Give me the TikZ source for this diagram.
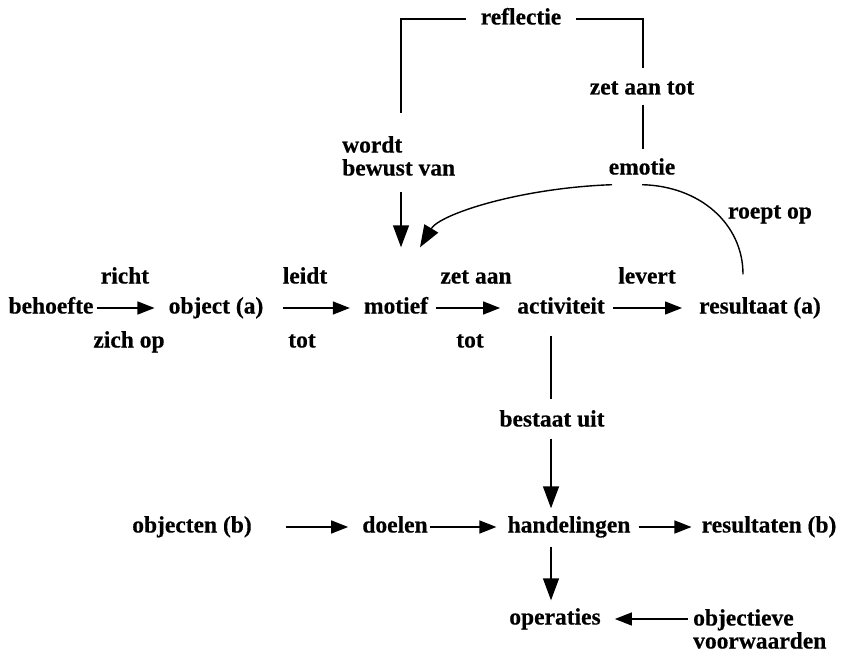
\documentclass[tikz,border=0pt]{standalone}
\usepackage{fontspec}
\setmainfont{Liberation Serif}[BoldFeatures={FakeBold=0.4}]
\usetikzlibrary{arrows.meta}
\begin{document}
\begin{tikzpicture}[x=1pt,y=-1pt,
  lbl/.style={font=\fontsize{23.5}{23}\selectfont\bfseries, inner sep=0pt,
              text height=11pt, text depth=0pt},
  multi/.style={font=\fontsize{23.5}{23}\selectfont\bfseries, inner sep=0pt,
              align=left, anchor=north west},
  conn/.style={line width=1.4pt},
  arr/.style={conn, -{Triangle[length=17pt,width=13pt]}},
  varr/.style={conn, -{Triangle[length=22pt,width=16pt]}},
]
\useasboundingbox (0,0) rectangle (843,658);

% columns used by the vertical connectors
\coordinate (colL) at (401,0);
\coordinate (colR) at (643,0);
\coordinate (spine) at (551,0);

% reflection loop
\node[lbl] (reflectie) at (521,19) {reflectie};
\node[lbl] (zetaantot) at (642,89) {zet aan tot};
\node[multi] (bewust) at (342,136) {wordt\\bewust van};
\node[lbl] (emotie) at (642,169) {emotie};
\node[lbl] (roeptop) at (770,213) {roept op};

% main chain
\node[lbl] (behoefte)   at (51,308)  {behoefte};
\node[lbl] (object)     at (216,308) {object (a)};
\node[lbl] (motief)     at (396,308) {motief};
\node[lbl] (activiteit) at (561,308) {activiteit};
\node[lbl] (resultaat)  at (760,308) {resultaat (a)};

\node[lbl] (richt)  at (125,278) {richt};
\node[lbl] (leidt)  at (305,278) {leidt};
\node[lbl] (zetaan) at (476,278) {zet aan};
\node[lbl] (levert) at (647,278) {levert};
\node[lbl] (zichop) at (129,342) {zich op};
\node[lbl] (totA)   at (302,342) {tot};
\node[lbl] (totB)   at (470,342) {tot};

\node[lbl] (bestaat) at (552,421) {bestaat uit};

% lower chain
\node[lbl] (objecten)    at (192,527) {objecten (b)};
\node[lbl] (doelen)      at (395,527) {doelen};
\node[lbl] (handelingen) at (569,527) {handelingen};
\node[lbl] (resultaten)  at (769,527) {resultaten (b)};

\node[lbl] (operaties) at (555,619) {operaties};
\node[multi] (objectieve) at (693,609) {objectieve\\voorwaarden};

% reflection loop lines
\draw[conn] ([xshift=-15pt]reflectie.west) -| ([yshift=23pt]bewust.north -| colL);
\draw[conn] ([xshift=15pt]reflectie.east) -| ([yshift=15pt]zetaantot.north -| colR);
\draw[conn] ([yshift=-10pt]zetaantot.south -| colR) -- ([yshift=14pt]emotie.north -| colR);
\draw[varr] ([yshift=-16pt]bewust.south -| colL) -- ([yshift=55pt]motief.north -| colL);
\draw[varr] ([xshift=-30pt,yshift=-10pt]emotie.south)
  .. controls (520,188) and (440,214) .. ([xshift=24pt,yshift=55pt]motief.north);
\draw[conn] ([yshift=-10pt]emotie.south)
  .. controls (700,186) and (743,224) .. ([xshift=-17pt,yshift=28pt]resultaat.north);

% main chain arrows
\draw[arr, shorten <=3pt, shorten >=14pt] (behoefte) -- (object);
\draw[arr, shorten <=19pt, shorten >=14pt] (object) -- (motief);
\draw[arr, shorten <=8pt, shorten >=17pt] (motief) -- (activiteit);
\draw[arr, shorten <=8pt, shorten >=17pt] (activiteit) -- (resultaat);

% activity consists of actions
\draw[conn] ([yshift=-22pt]activiteit.south -| spine) -- ([yshift=16pt]bestaat.north -| spine);
\draw[varr] ([yshift=-12pt]bestaat.south -| spine) -- ([yshift=13pt]handelingen.north -| spine);

% lower chain arrows
\draw[arr, shorten <=34pt, shorten >=14pt] (objecten) -- (doelen);
\draw[arr, shorten <=2pt, shorten >=11pt] (doelen) -- (handelingen);
\draw[arr, shorten <=8pt, shorten >=10pt] (handelingen) -- (resultaten);
\draw[varr] ([yshift=-14pt]handelingen.south -| spine) -- ([yshift=13pt]operaties.north -| spine);
\draw[arr, shorten >=14pt] ([xshift=-5pt]objectieve.west |- operaties.east) -- (operaties.east);
\end{tikzpicture}
\end{document}
